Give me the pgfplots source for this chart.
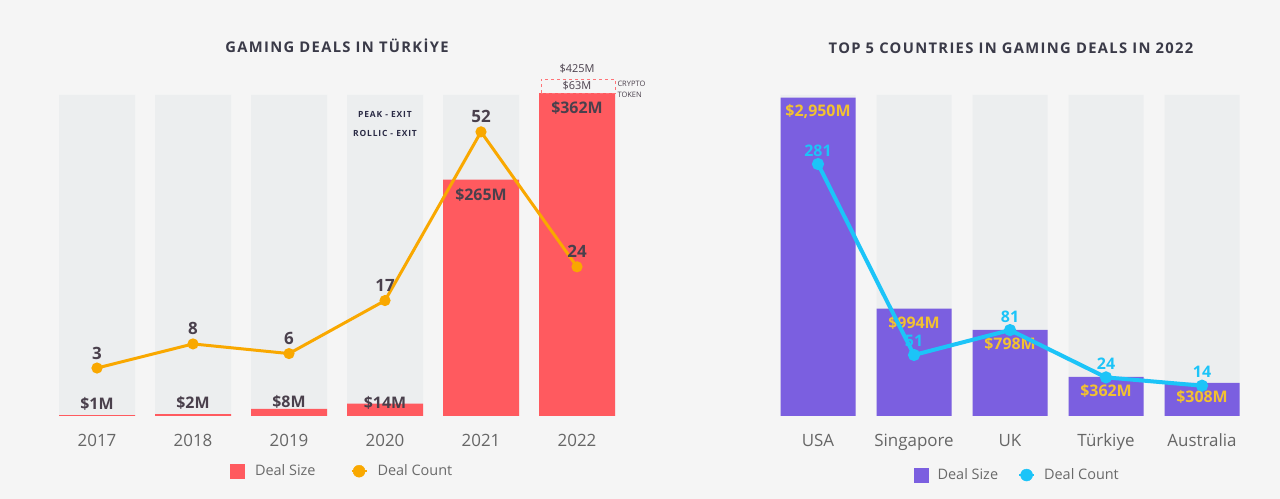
\documentclass[border=0pt]{standalone}
\usepackage{pgfplots}
\pgfplotsset{compat=1.18}
\usepackage{fontspec}
\setmainfont{Open Sans}
\newfontfamily\titlefont[LetterSpace=9]{Open Sans}
\newfontfamily\notefont[LetterSpace=10]{Open Sans}
\definecolor{bgc}{HTML}{F5F5F5}
\definecolor{barbg}{HTML}{ECEEEF}
\definecolor{redc}{HTML}{FF5A5F}
\definecolor{orangec}{HTML}{F9A800}
\definecolor{labc}{HTML}{4A404C}
\definecolor{tickc}{HTML}{666666}
\definecolor{legc}{HTML}{6A6A6A}
\definecolor{titlec}{HTML}{3A3A48}
\definecolor{purplec}{HTML}{7B5FE0}
\definecolor{cyanc}{HTML}{1CC4F8}
\definecolor{goldc}{HTML}{F2C230}
\definecolor{navyc}{HTML}{2B2B45}
\pgfplotsset{
  base/.style={
    scale only axis, clip=false,
    axis line style={draw=none}, major tick length=0pt,
    ytick=\empty,
    xticklabel style={anchor=base, yshift=-31bp, font=\fontsize{17}{20}\selectfont, text=tickc},
    /pgf/number format/assume math mode=true,
  },
}
\begin{document}
\begin{tikzpicture}[x=1bp,y=1bp]
\fill[bgc] (0,0) rectangle (1280,499);
\useasboundingbox (0,0) rectangle (1280,499);
\node[font=\titlefont\bfseries\fontsize{14.8}{17}\selectfont, text=titlec] at (337,453) {GAMING DEALS IN TÜRKİYE};
\node[font=\titlefont\bfseries\fontsize{14.8}{17}\selectfont, text=titlec] at (1011,451) {TOP 5 COUNTRIES IN GAMING DEALS IN 2022};

% ---------------- Left: deal size ----------------
\begin{axis}[base,
  at={(49bp,83bp)}, anchor=south west,
  width=576bp, height=321bp,
  xmin=-0.5, xmax=5.5, ymin=0, ymax=360,
  xtick={0,...,5}, xticklabels={2017,2018,2019,2020,2021,2022},
  ybar, bar width=76bp, bar shift=0pt,
  legend style={at={(0.509,-0.172)}, anchor=center, draw=none, fill=none,
    legend columns=2, font=\fontsize{14.5}{16}\selectfont, text=legc,
    /tikz/every odd column/.append style={column sep=8bp},
    /tikz/every even column/.append style={column sep=33bp}},
  legend cell align=left,
]
\addplot[fill=barbg, draw=none, forget plot] coordinates {(0,360) (1,360) (2,360) (3,360) (4,360) (5,360)};
\addplot[fill=redc, draw=none,
  legend image code/.code={\fill[redc] (0bp,-7.5bp) rectangle (15bp,7.5bp);}]
  coordinates {(0,1) (1,2) (2,8) (3,14) (4,265) (5,362)};
\addlegendentry{Deal Size}
\addlegendimage{legend image code/.code={\draw[orangec, line width=2bp] (0bp,0bp) -- (15bp,0bp); \fill[orangec] (7.5bp,0bp) circle (6bp);}}
\addlegendentry{Deal Count}
\addplot[draw=none, fill=none, forget plot, nodes near coords, point meta=explicit symbolic,
  every node near coord/.append style={anchor=center, font=\bfseries\fontsize{16}{18}\selectfont, text=labc}]
  table[meta=lab] {
x y lab
0 13.5 {\$1M}
1 14.6 {\$2M}
2 15.7 {\$8M}
3 14.6 {\$14M}
4 247.8 {\$265M}
5 345.3 {\$362M}
};
\node[font=\notefont\bfseries\fontsize{8.5}{10}\selectfont, text=navyc] at (axis cs:3,338.6) {PEAK - EXIT};
\node[font=\notefont\bfseries\fontsize{8.5}{10}\selectfont, text=navyc] at (axis cs:3,317.3) {ROLLIC - EXIT};
\draw[redc!85, dash pattern=on 3bp off 3bp, line width=1bp] (axis cs:4.625,362.1) rectangle (axis cs:5.396,377.8);
\node[font=\fontsize{11}{13}\selectfont, text=labc] at (axis cs:5,370) {\$63M};
\node[font=\fontsize{11}{13}\selectfont, text=labc] at (axis cs:5,389) {\$425M};
\node[font=\fontsize{7.5}{9}\selectfont, text=labc, anchor=west, inner sep=0pt] at (axis cs:5.42,372.2) {CRYPTO};
\node[font=\fontsize{7.5}{9}\selectfont, text=labc, anchor=west, inner sep=0pt] at (axis cs:5.42,359.9) {TOKEN};
\end{axis}

% ---------------- Left: deal count ----------------
\begin{axis}[base,
  at={(49bp,83bp)}, anchor=south west,
  width=576bp, height=321bp,
  xmin=-0.5, xmax=5.5, ymin=-6.95, ymax=59.65,
  xtick=\empty,
]
\addplot[orangec, line width=3bp, mark=*, mark size=4bp, mark options={fill=orangec, draw=none},
  nodes near coords,
  every node near coord/.append style={anchor=base, yshift=9bp, inner sep=0pt, font=\bfseries\fontsize{17}{20}\selectfont, text=labc}]
  coordinates {(0,3) (1,8) (2,6) (3,17) (4,52) (5,24)};
\end{axis}

% ---------------- Right: deal size ----------------
\begin{axis}[base,
  at={(770bp,83bp)}, anchor=south west,
  width=480bp, height=321bp,
  xmin=-0.5, xmax=4.5, ymin=0, ymax=2975,
  xtick={0,...,4}, xticklabels={USA,Singapore,UK,Türkiye,Australia},
  ybar, bar width=75bp, bar shift=0pt,
  legend style={at={(0.515,-0.184)}, anchor=center, draw=none, fill=none,
    legend columns=2, font=\fontsize{14.5}{16}\selectfont, text=legc,
    /tikz/every odd column/.append style={column sep=7bp},
    /tikz/every even column/.append style={column sep=18bp}},
  legend cell align=left,
]
\addplot[fill=barbg, draw=none, forget plot] coordinates {(0,2975) (1,2975) (2,2975) (3,2975) (4,2975)};
\addplot[fill=purplec, draw=none,
  legend image code/.code={\fill[purplec] (0bp,-7.5bp) rectangle (15bp,7.5bp);},
  nodes near coords, point meta=explicit symbolic,
  every node near coord/.append style={anchor=center, yshift=-14bp, font=\bfseries\fontsize{16}{18}\selectfont, text=goldc}]
  table[meta=lab] {
x y lab
0 2950 {\$2,950M}
1 994 {\$994M}
2 798 {\$798M}
3 362 {\$362M}
4 308 {\$308M}
};
\addlegendentry{Deal Size}
\addlegendimage{legend image code/.code={\draw[cyanc, line width=2bp] (0bp,0bp) -- (15bp,0bp); \fill[cyanc] (7.5bp,0bp) circle (6bp);}}
\addlegendentry{Deal Count}
\end{axis}

% ---------------- Right: deal count ----------------
\begin{axis}[base,
  at={(770bp,83bp)}, anchor=south west,
  width=480bp, height=321bp,
  xmin=-0.5, xmax=4.5, ymin=-22.5, ymax=364.2,
  xtick=\empty,
]
\addplot[cyanc, line width=4bp, mark=*, mark size=4bp, mark options={fill=cyanc, draw=none},
  nodes near coords,
  every node near coord/.append style={anchor=base, yshift=8bp, inner sep=0pt, font=\bfseries\fontsize{16}{18}\selectfont, text=cyanc}]
  coordinates {(0,281) (1,51) (2,81) (3,24) (4,14)};
\end{axis}
\end{tikzpicture}
\end{document}
